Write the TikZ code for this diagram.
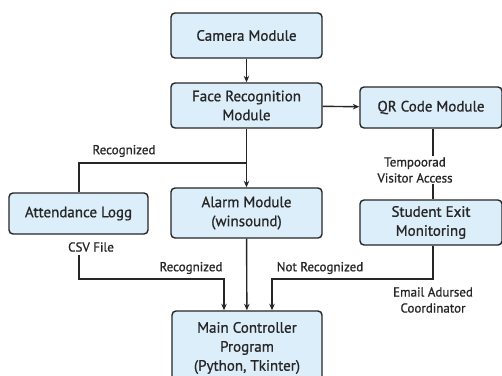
\documentclass[tikz,border=0pt]{standalone}
\usepackage{fontspec}
\setmainfont{PT Sans}
\newfontfamily\medfont{PT Sans}[FakeBold=0.9]
\usetikzlibrary{arrows.meta}
\definecolor{boxfill}{HTML}{DDEEFB}
\definecolor{boxline}{HTML}{262626}
\begin{document}
\begin{tikzpicture}[x=1pt,y=-1pt,
  box/.style={draw=boxline, fill=boxfill, line width=1.4pt, rounded corners=4pt,
    align=center, inner sep=0pt, text=boxline, font=\medfont\fontsize{15}{19}\selectfont},
  lbl/.style={font=\medfont\fontsize{13}{16}\selectfont, align=center, inner sep=1pt, text=boxline},
  conn/.style={draw=boxline, line width=1.4pt},
  arr/.style={conn, -{Stealth[length=6.5pt,width=5.5pt]}}]
\useasboundingbox (0,0) rectangle (502,375);
\fill[white] (0,0) rectangle (502,375);
\clip (0,0) rectangle (502,375);
% boxes
\node[box, minimum width=151pt, minimum height=45pt] (cam) at (246.5,35.5) {Camera Module};
\node[box, minimum width=151pt, minimum height=45pt] (face) at (246.5,105.5) {Face Recognition\\Module};
\node[box, minimum width=142pt, minimum height=41pt] (qr) at (431,107.5) {QR Code Module};
\node[box, minimum width=139pt, minimum height=41pt] (att) at (78.5,213.5) {Attendance Logg};
\node[box, minimum width=151pt, minimum height=50pt] (alarm) at (246.5,213) {Alarm Module\\(winsound)};
\node[box, minimum width=142pt, minimum height=45pt] (exit) at (431,222.5) {Student Exit\\Monitoring};
\node[box, minimum width=150pt, minimum height=74pt] (main) at (247,348) {Main Controller\\Program\\(Python, Tkinter)};
% labels
\node[lbl] (lrec1) at (124,151) {Recognized};
\node[lbl] (ltemp) at (415,170) {Tempoorad\\Visitor Access};
\node[lbl] (lcsv) at (91,247) {CSV File};
\node[lbl] (lrec2) at (191,268) {Recognized};
\node[lbl] (lnot) at (320,268) {Not Recognized};
\node[lbl] (lemail) at (433,300) {Email Adursed\\Coordinator};
% helper coordinates
\coordinate (jr) at (247,163);
\coordinate (csvtop) at (79,255);
\coordinate (csvbend) at (79,279);
\coordinate (recin) at (224,279);
\coordinate (exbend) at (433,279);
\coordinate (notin) at (272,279);
\coordinate (qrx) at (433,0);
% connectors
\draw[arr] (cam) -- (face);
\draw[arr] (face) -- (qr);
\draw[arr] (face) -- (alarm);
\draw[conn] (jr) -| (att.north -| csvtop);
\draw[conn] (qr.south -| qrx) -- (ltemp.north -| qrx);
\draw[conn] (ltemp.south -| qrx) -- (exit.north -| qrx);
\draw[arr] (csvtop) -- (csvbend) -- (recin) -- (main.north -| recin);
\draw[arr] (alarm) -- (main);
\draw[arr] (exit.south -| qrx) -- (exbend) -- (notin) -- (main.north -| notin);
\end{tikzpicture}
\end{document}
